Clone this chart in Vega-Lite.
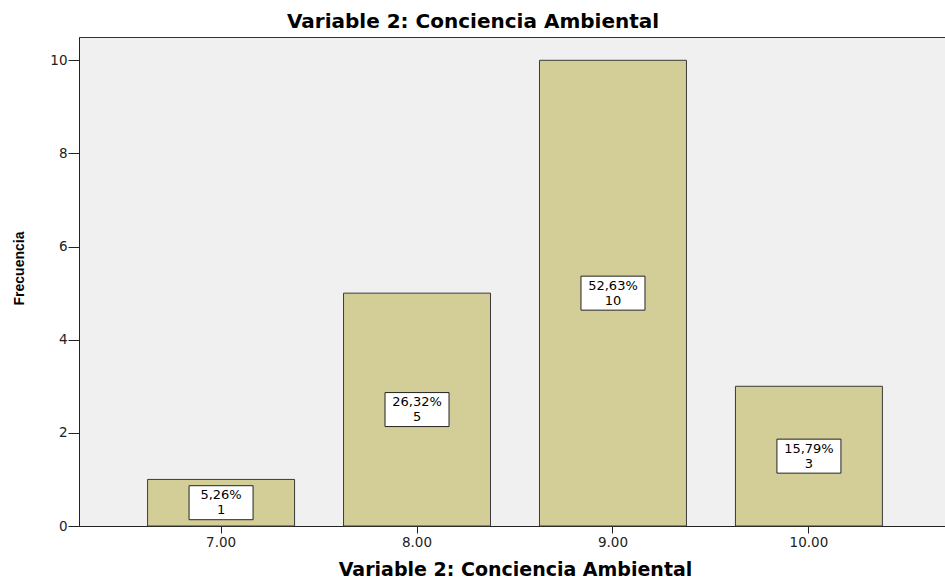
{
  "$schema": "https://vega.github.io/schema/vega-lite/v6.json",
  "autosize": {"type": "none"},
  "padding": {"left": 79, "top": 37, "right": 0, "bottom": 53},
  "width": 872,
  "height": 489,
  "background": "white",
  "title": {
    "text": "Variable 2: Conciencia Ambiental",
    "font": "DejaVu Sans",
    "fontSize": 20,
    "fontWeight": "bold",
    "color": "#000000",
    "anchor": "middle",
    "dx": -42,
    "offset": 5
  },
  "config": {
    "view": {"fill": "#f0f0f0", "stroke": "#333333", "strokeWidth": 1},
    "axis": {"grid": false, "labelFont": "DejaVu Sans", "titleFont": "DejaVu Sans", "domainColor": "#222222", "tickColor": "#222222", "labelColor": "#222222"}
  },
  "data": {
    "values": [
      {"cat": "7.00", "count": 1, "pct": "5,26%"},
      {"cat": "8.00", "count": 5, "pct": "26,32%"},
      {"cat": "9.00", "count": 10, "pct": "52,63%"},
      {"cat": "10.00", "count": 3, "pct": "15,79%"}
    ]
  },
  "encoding": {
    "x": {
      "field": "cat",
      "type": "nominal",
      "sort": null,
      "scale": {"paddingInner": 0.25, "paddingOuter": 0.35},
      "axis": {
        "title": "Variable 2: Conciencia Ambiental",
        "titleFontSize": 19,
        "titleFontWeight": "bold",
        "titleColor": "#000000",
        "titlePadding": 12,
        "labelAngle": 0,
        "labelFontSize": 13.5,
        "labelPadding": 2,
        "tickSize": 7,
        "domainWidth": 1
      }
    }
  },
  "layer": [
    {
      "mark": {"type": "bar", "fill": "#d3ce97", "stroke": "#3a3a3a", "strokeWidth": 1},
      "encoding": {
        "y": {
          "field": "count",
          "type": "quantitative",
          "scale": {"domain": [0, 10.5], "nice": false},
          "axis": {
            "title": "Frecuencia",
            "titleFont": "Liberation Sans",
            "titleFontSize": 14,
            "titleFontWeight": "bold",
            "titleColor": "#000000",
            "titlePadding": 23,
            "titleY": 231,
            "values": [0, 2, 4, 6, 8, 10],
            "labelFontSize": 13.5,
            "labelPadding": 1,
            "tickSize": 11,
            "domainWidth": 1
          }
        }
      }
    },
    {
      "mark": {"type": "tick", "fill": "white", "stroke": "#222222", "strokeWidth": 1, "size": 64, "thickness": 34, "opacity": 1},
      "encoding": {
        "y": {"field": "count", "type": "quantitative", "scale": {"domain": [0, 21], "nice": false}, "axis": null}
      }
    },
    {
      "mark": {"type": "text", "font": "DejaVu Sans", "fontSize": 13, "color": "#000000", "dy": -7.5, "baseline": "middle"},
      "encoding": {
        "y": {"field": "count", "type": "quantitative", "scale": {"domain": [0, 21], "nice": false}, "axis": null},
        "text": {"field": "pct"}
      }
    },
    {
      "mark": {"type": "text", "font": "DejaVu Sans", "fontSize": 13, "color": "#000000", "dy": 7.5, "baseline": "middle"},
      "encoding": {
        "y": {"field": "count", "type": "quantitative", "scale": {"domain": [0, 21], "nice": false}, "axis": null},
        "text": {"field": "count", "type": "quantitative"}
      }
    }
  ],
  "resolve": {"scale": {"y": "independent"}}
}
